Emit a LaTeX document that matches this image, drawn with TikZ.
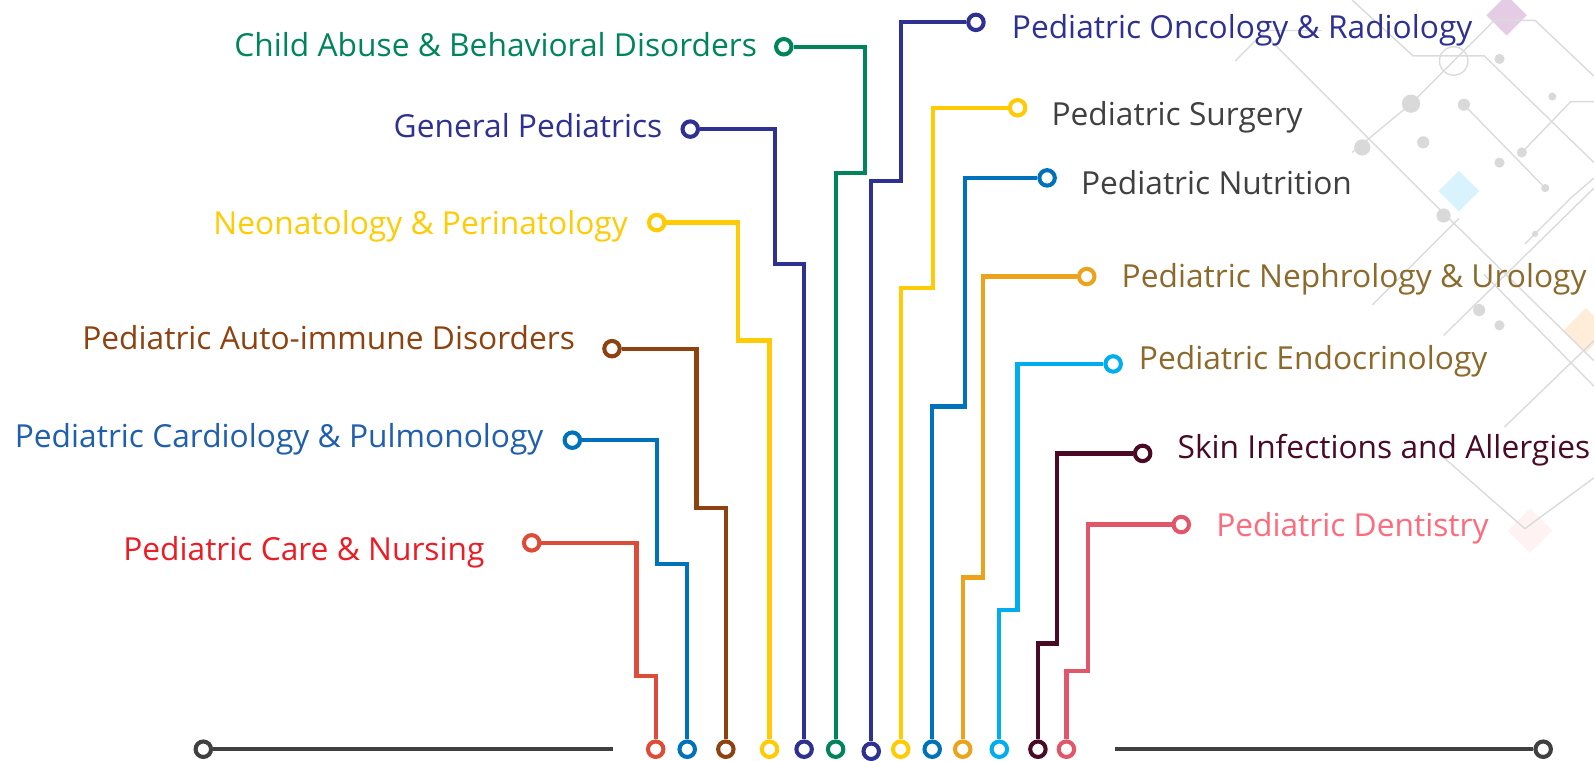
\documentclass[tikz,border=0pt]{standalone}
\usepackage{fontspec}
\setmainfont{Open Sans}

\definecolor{abuse}{HTML}{00855A}
\definecolor{navy}{HTML}{2E3192}
\definecolor{sun}{HTML}{FFCB05}
\definecolor{rust}{HTML}{8E4210}
\definecolor{ocean}{HTML}{0072BC}
\definecolor{cardio}{HTML}{1F5FAD}
\definecolor{brick}{HTML}{DD4B39}
\definecolor{nursing}{HTML}{ED1C24}
\definecolor{amber}{HTML}{EDA21C}
\definecolor{goldtext}{HTML}{8C6A2C}
\definecolor{sky}{HTML}{00AEEF}
\definecolor{maroon}{HTML}{4A0A26}
\definecolor{rose}{HTML}{E2566A}
\definecolor{rosetext}{HTML}{FF6B7C}
\definecolor{ink}{HTML}{404040}

\tikzset{
  ring/.style={circle, draw=#1, fill=white, line width=2pt, minimum size=7.6pt, inner sep=0pt},
  wire/.style={line width=2.1pt, draw=#1},
  lbl/.style={font=\fontsize{15.6}{19}\selectfont, inner sep=0pt, yshift=-2.5pt},
  deco/.style={draw=gray!28, line width=0.7pt},
  dot/.style={fill=gray!30},
}

\begin{document}
\begin{tikzpicture}[x=0.5pt,y=-0.5pt]
  \useasboundingbox (0,0) rectangle (1568,748);

  % faint circuit pattern, top right
  \begin{scope}
    \fill[violet!20] (1482,-5) -- (1502,15) -- (1482,35) -- (1462,15) -- cycle;
    \fill[cyan!15] (1435,168) -- (1455,188) -- (1435,208) -- (1415,188) -- cycle;
    \fill[orange!15] (1560,303) -- (1582,325) -- (1560,347) -- (1538,325) -- cycle;
    \fill[red!5] (1505,500) -- (1527,522) -- (1505,544) -- (1483,522) -- cycle;
    \draw[deco] (1330,0) -- (1390,55) -- (1460,55) -- (1568,160);
    \draw[deco] (1388,102) -- (1470,20) -- (1510,20) -- (1568,75);
    \draw[deco] (1250,40) -- (1400,190) -- (1568,355);
    \draw[deco] (1215,60) -- (1245,30) -- (1300,30);
    \draw[deco] (1440,103) -- (1520,185);
    \draw[deco] (1497,150) -- (1545,100) -- (1568,100);
    \draw[deco] (1500,240) -- (1545,195) -- (1568,175);
    \draw[deco] (1420,330) -- (1568,185);
    \draw[deco] (1350,300) -- (1435,215);
    \draw[deco] (1460,270) -- (1568,380);
    \draw[deco] (1480,420) -- (1568,335);
    \draw[deco] (1420,450) -- (1500,520) -- (1568,470);
    \draw[deco] (1330,150) -- (1388,102);
    \draw[deco] (1430,60) circle[radius=14];
    \fill[dot] (1388,102) circle[radius=9];
    \fill[dot] (1440,103) circle[radius=6];
    \fill[dot] (1475,58) circle[radius=5];
    \fill[dot] (1527,95) circle[radius=4];
    \fill[dot] (1497,150) circle[radius=5];
    \fill[dot] (1475,160) circle[radius=5];
    \fill[dot] (1520,185) circle[radius=4];
    \fill[dot] (1420,212) circle[radius=7];
    \fill[dot] (1510,230) circle[radius=3];
    \fill[dot] (1340,145) circle[radius=8];
    \fill[dot] (1400,140) circle[radius=6];
    \fill[dot] (1455,305) circle[radius=6];
    \fill[dot] (1475,320) circle[radius=5];
  \end{scope}

  % base line
  \node[ring=ink] (gl) at (200,737) {};
  \node[ring=ink] (gr) at (1518,737) {};
  \coordinate (gla) at (603,737);
  \coordinate (gra) at (1097,737);
  \draw[wire=ink] (gl) -- (gla);
  \draw[wire=ink] (gra) -- (gr);

  % left branches
  \node[ring=abuse] (t1) at (771,46) {};
  \node[ring=abuse] (b1) at (822,737) {};
  \node[lbl, text=abuse, anchor=mid east] (l1) at (745,45) {Child Abuse \& Behavioral Disorders};
  \draw[wire=abuse] (t1) -- (851,46) -- (851,170) -- (822,170) -- (b1);

  \node[ring=navy] (t2) at (679,127) {};
  \node[ring=navy] (b2) at (791,737) {};
  \node[lbl, text=navy, anchor=mid east] (l2) at (652,125) {General Pediatrics};
  \draw[wire=navy] (t2) -- (762,127) -- (762,260) -- (791,260) -- (b2);

  \node[ring=sun] (t3) at (646,219) {};
  \node[ring=sun] (b3) at (757,737) {};
  \node[lbl, text=sun, anchor=mid east] (l3) at (618,220) {Neonatology \& Perinatology};
  \draw[wire=sun] (t3) -- (726,219) -- (726,335) -- (757,335) -- (b3);

  \node[ring=rust] (t4) at (602,343) {};
  \node[ring=rust] (b4) at (714,737) {};
  \node[lbl, text=rust, anchor=mid east] (l4) at (566,333) {Pediatric Auto-immune Disorders};
  \draw[wire=rust] (t4) -- (685,343) -- (685,500) -- (714,500) -- (b4);

  \node[ring=ocean] (t5) at (563,433) {};
  \node[ring=ocean] (b5) at (676,737) {};
  \node[lbl, text=cardio, anchor=mid east] (l5) at (535,430) {Pediatric Cardiology \& Pulmonology};
  \draw[wire=ocean] (t5) -- (646,433) -- (646,555) -- (676,555) -- (b5);

  \node[ring=brick] (t6) at (523,534) {};
  \node[ring=brick] (b6) at (645,737) {};
  \node[lbl, text=nursing, anchor=mid east] (l6) at (477,541) {Pediatric Care \& Nursing};
  \draw[wire=brick] (t6) -- (626,534) -- (626,665) -- (645,665) -- (b6);

  % right branches
  \node[ring=navy] (t7) at (960,22) {};
  \node[ring=navy] (b7) at (857,739) {};
  \node[lbl, text=navy, anchor=mid west] (l7) at (995,28) {Pediatric Oncology \& Radiology};
  \draw[wire=navy] (t7) -- (886,22) -- (886,178) -- (857,178) -- (b7);

  \node[ring=sun] (t8) at (1001,106) {};
  \node[ring=sun] (b8) at (886,737) {};
  \node[lbl, text=ink, anchor=mid west] (l8) at (1034,113) {Pediatric Surgery};
  \draw[wire=sun] (t8) -- (918,106) -- (918,283) -- (886,283) -- (b8);

  \node[ring=ocean] (t9) at (1030,175) {};
  \node[ring=ocean] (b9) at (917,737) {};
  \node[lbl, text=ink, anchor=mid west] (l9) at (1063,181) {Pediatric Nutrition};
  \draw[wire=ocean] (t9) -- (949,175) -- (949,400) -- (917,400) -- (b9);

  \node[ring=amber] (t10) at (1069,272) {};
  \node[ring=amber] (b10) at (947,737) {};
  \node[lbl, text=goldtext, anchor=mid west] (l10) at (1103,272) {Pediatric Nephrology \& Urology};
  \draw[wire=amber] (t10) -- (967,272) -- (967,568) -- (947,568) -- (b10);

  \node[ring=sky] (t11) at (1095,358) {};
  \node[ring=sky] (b11) at (983,737) {};
  \node[lbl, text=goldtext, anchor=mid west] (l11) at (1120,353) {Pediatric Endocrinology};
  \draw[wire=sky] (t11) -- (1001,358) -- (1001,600) -- (983,600) -- (b11);

  \node[ring=maroon] (t12) at (1124,446) {};
  \node[ring=maroon] (b12) at (1021,737) {};
  \node[lbl, text=maroon, anchor=mid west] (l12) at (1158,441) {Skin Infections and Allergies};
  \draw[wire=maroon] (t12) -- (1040,446) -- (1040,633) -- (1021,633) -- (b12);

  \node[ring=rose] (t13) at (1162,516) {};
  \node[ring=rose] (b13) at (1049,737) {};
  \node[lbl, text=rosetext, anchor=mid west] (l13) at (1196,517) {Pediatric Dentistry};
  \draw[wire=rose] (t13) -- (1070,516) -- (1070,660) -- (1049,660) -- (b13);
\end{tikzpicture}
\end{document}
